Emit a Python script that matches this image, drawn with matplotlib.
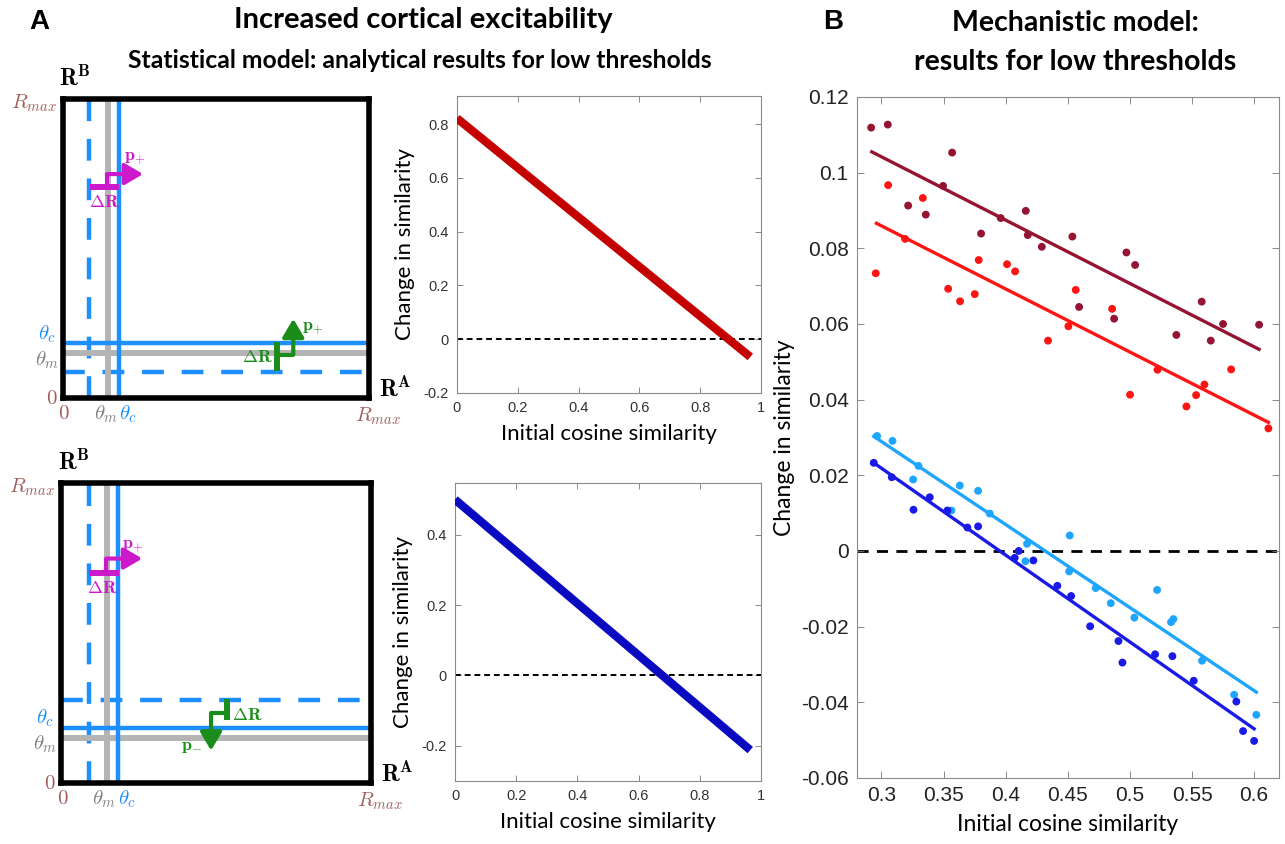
import numpy as np
import matplotlib
matplotlib.use("Agg")
import matplotlib.pyplot as plt

plt.rcParams["mathtext.fontset"] = "cm"
plt.rcParams["axes.unicode_minus"] = False

LABEL_FONT = ["Lato", "DejaVu Sans"]
TICK_FONT = ["Liberation Sans", "DejaVu Sans"]

# ─── schematic thresholds (fraction of R_max) ───
theta_m = 0.149
theta_c = 0.184
shift_top = (0.087, 0.087)      # lowered thresholds (x, y) – top schematic
shift_bottom = (0.089, 0.278)   # (x, y) – bottom schematic

# ─── analytical results ───
x_analytic = [0.0, 0.965]
dsim_top = [0.822, -0.066]
dsim_bottom = [0.500, -0.212]

# ─── mechanistic model ───
darkred_x = [0.2917, 0.3051, 0.3569, 0.3496, 0.3215, 0.3357, 0.3802, 0.3960, 0.4162, 0.4178, 0.4291,
             0.4537, 0.4591, 0.4873, 0.4972, 0.5042, 0.5374, 0.5578, 0.5651, 0.5750, 0.6040]
darkred_y = [0.1119, 0.1127, 0.1053, 0.0965, 0.0913, 0.0889, 0.0839, 0.0880, 0.0899, 0.0835, 0.0804,
             0.0831, 0.0645, 0.0614, 0.0789, 0.0756, 0.0571, 0.0659, 0.0556, 0.0600, 0.0598]
red_x = [0.2954, 0.3054, 0.3190, 0.3333, 0.3537, 0.3633, 0.3751, 0.3783, 0.4011, 0.4076, 0.4341,
         0.4505, 0.4564, 0.4857, 0.5001, 0.5222, 0.5455, 0.5533, 0.5600, 0.5815, 0.6115]
red_y = [0.0734, 0.0967, 0.0825, 0.0933, 0.0693, 0.0660, 0.0679, 0.0769, 0.0758, 0.0739, 0.0556,
         0.0594, 0.0690, 0.0640, 0.0413, 0.0479, 0.0382, 0.0412, 0.0440, 0.0480, 0.0324]
lightblue_x = [0.2965, 0.3089, 0.3255, 0.3298, 0.3563, 0.3631, 0.3778, 0.3872, 0.4172, 0.4159, 0.4516,
               0.4511, 0.4725, 0.4846, 0.5036, 0.5219, 0.5331, 0.5350, 0.5581, 0.5839, 0.6018]
lightblue_y = [0.0304, 0.0291, 0.0189, 0.0225, 0.0107, 0.0173, 0.0159, 0.0099, 0.0019, -0.0027, 0.0041,
               -0.0054, -0.0098, -0.0138, -0.0176, -0.0103, -0.0188, -0.0180, -0.0290, -0.0380, -0.0433]
darkblue_x = [0.2938, 0.3083, 0.3258, 0.3389, 0.3531, 0.3692, 0.3778, 0.4073, 0.4105, 0.4223, 0.4416,
              0.4527, 0.4680, 0.4908, 0.4940, 0.5203, 0.5342, 0.5514, 0.5857, 0.5911, 0.6000]
darkblue_y = [0.0233, 0.0195, 0.0109, 0.0142, 0.0107, 0.0062, 0.0065, -0.0018, 0.0000, -0.0025, -0.0092,
              -0.0119, -0.0199, -0.0238, -0.0295, -0.0273, -0.0278, -0.0343, -0.0398, -0.0476, -0.0502]

# fitted lines (end points)
fit_darkred = ([0.2922, 0.6040], [0.1055, 0.0533])
fit_red = ([0.2960, 0.6115], [0.0866, 0.0340])
fit_lightblue = ([0.2938, 0.6018], [0.0303, -0.0373])
fit_darkblue = ([0.2938, 0.6000], [0.0233, -0.0470])

C_DARKRED = "#941432"
C_RED = "#ff1414"
C_LIGHTBLUE = "#1ea6ff"
C_DARKBLUE = "#1a1ae6"
C_BLUE = "#1e8fff"
C_GRAY = "#b4b4b4"
C_BROWN = "#a2605c"
C_MAGENTA = "#cc19cc"
C_GREEN = "#1a8c1a"


def tick_str(v):
    return "%g" % round(v, 4)


def draw_step_arrow(ax, bar, step, arrow, color):
    # ΔR bar, connector and the arrow giving the direction of the shift
    ax.plot(*bar, color=color, lw=4.3, solid_capstyle="butt", zorder=6)
    ax.plot(*step, color=color, lw=3.0, solid_capstyle="butt", zorder=6)
    ax.annotate("", xy=arrow[1], xytext=arrow[0],
                arrowprops=dict(arrowstyle="-|>,head_length=1.1,head_width=0.65",
                                lw=3.0, color=color, shrinkA=0, shrinkB=0), zorder=6)


def draw_schematic(ax, shift):
    ax.set_xlim(0, 1)
    ax.set_ylim(0, 1)
    ax.set_xticks([])
    ax.set_yticks([])
    for s in ax.spines.values():
        s.set_linewidth(4)
        s.set_color("black")
        s.set_zorder(10)
    dash = (0, (4.9, 4.0))
    ax.axvline(shift[0], color=C_BLUE, lw=3.2, ls=dash)
    ax.axhline(shift[1], color=C_BLUE, lw=3.2, ls=dash)
    ax.axvline(theta_m, color=C_GRAY, lw=4.3)
    ax.axhline(theta_m, color=C_GRAY, lw=4.3)
    ax.axvline(theta_c, color=C_BLUE, lw=3.2)
    ax.axhline(theta_c, color=C_BLUE, lw=3.2)

    kw = dict(transform=ax.transAxes, ha="center", va="center", clip_on=False)
    ax.text(0.04, 1.07, r"$\mathbf{R}^{\mathbf{B}}$", fontsize=17, color="black", **kw)
    ax.text(1.085, 0.03, r"$\mathbf{R}^{\mathbf{A}}$", fontsize=17, color="black", **kw)
    ax.text(-0.095, 0.985, r"$R_{max}$", fontsize=15, color=C_BROWN, **kw)
    ax.text(1.03, -0.06, r"$R_{max}$", fontsize=15, color=C_BROWN, **kw)
    ax.text(-0.05, 0.215, r"$\theta_c$", fontsize=15, color=C_BLUE, **kw)
    ax.text(-0.05, 0.128, r"$\theta_m$", fontsize=15, color="#808080", **kw)
    ax.text(-0.035, 0.0, r"$0$", fontsize=15, color=C_BROWN, **kw)
    ax.text(0.005, -0.05, r"$0$", fontsize=15, color=C_BROWN, **kw)
    ax.text(0.14, -0.055, r"$\theta_m$", fontsize=15, color="#808080", **kw)
    ax.text(0.214, -0.055, r"$\theta_c$", fontsize=15, color=C_BLUE, **kw)


def analytic_panel(ax, y, color, ylim, yticks):
    ax.plot(x_analytic, y, color=color, lw=6, solid_capstyle="butt", zorder=3)
    ax.axhline(0, color="black", lw=1.4, ls=(0, (3, 2)), zorder=2)
    ax.set_xlim(0, 1)
    ax.set_ylim(*ylim)
    xt = [0, 0.2, 0.4, 0.6, 0.8, 1]
    ax.set_xticks(xt)
    ax.set_xticklabels([tick_str(v) for v in xt], fontfamily=TICK_FONT)
    ax.set_yticks(yticks)
    ax.set_yticklabels([tick_str(v) for v in yticks], fontfamily=TICK_FONT)
    ax.tick_params(direction="in", top=True, right=True, labelsize=10.5, length=4,
                   width=0.6, color="#777777", labelcolor="#333333", pad=6)
    for s in ax.spines.values():
        s.set_color("#8a8a8a")
        s.set_linewidth(0.8)
    ax.set_ylabel("Change in similarity", fontfamily=LABEL_FONT, fontsize=16, labelpad=6)
    ax.set_xlabel("Initial cosine similarity", fontfamily=LABEL_FONT, fontsize=16, labelpad=6)


fig = plt.figure(figsize=(12.85, 8.44), dpi=100)

# ─── A: schematics ───
ax_s1 = fig.add_axes([0.0488, 0.5284, 0.2386, 0.3543])
draw_schematic(ax_s1, shift_top)
draw_step_arrow(ax_s1, ([0.089, 0.185], [0.706, 0.706]), ([0.146, 0.146], [0.706, 0.751]),
                ((0.146, 0.749), (0.262, 0.749)), C_MAGENTA)
draw_step_arrow(ax_s1, ([0.70, 0.70], [0.089, 0.186]), ([0.70, 0.754], [0.145, 0.145]),
                ((0.752, 0.145), (0.752, 0.265)), C_GREEN)
mk = dict(fontsize=13, va="center")
ax_s1.text(0.235, 0.805, r"$\mathbf{p}_{+}$", color=C_MAGENTA, ha="center", **mk)
ax_s1.text(0.135, 0.655, r"$\mathbf{\Delta R}$", color=C_MAGENTA, ha="center", **mk)
ax_s1.text(0.815, 0.236, r"$\mathbf{p}_{+}$", color=C_GREEN, ha="center", **mk)
ax_s1.text(0.683, 0.138, r"$\mathbf{\Delta R}$", color=C_GREEN, ha="right", **mk)

ax_s2 = fig.add_axes([0.0475, 0.0723, 0.2412, 0.3555])
draw_schematic(ax_s2, shift_bottom)
draw_step_arrow(ax_s2, ([0.089, 0.186], [0.700, 0.700]), ([0.146, 0.146], [0.700, 0.750]),
                ((0.146, 0.748), (0.262, 0.748)), C_MAGENTA)
draw_step_arrow(ax_s2, ([0.535, 0.535], [0.211, 0.280]), ([0.537, 0.482], [0.233, 0.233]),
                ((0.484, 0.233), (0.484, 0.108)), C_GREEN)
ax_s2.text(0.232, 0.792, r"$\mathbf{p}_{+}$", color=C_MAGENTA, ha="center", **mk)
ax_s2.text(0.132, 0.650, r"$\mathbf{\Delta R}$", color=C_MAGENTA, ha="center", **mk)
ax_s2.text(0.552, 0.228, r"$\mathbf{\Delta R}$", color=C_GREEN, ha="left", **mk)
ax_s2.text(0.422, 0.122, r"$\mathbf{p}_{-}$", color=C_GREEN, ha="center", **mk)

# ─── A: analytical curves ───
ax_a1 = fig.add_axes([0.3556, 0.5344, 0.2366, 0.3519])
analytic_panel(ax_a1, dsim_top, "#c40000", (-0.2, 0.905), [-0.2, 0, 0.2, 0.4, 0.6, 0.8])
ax_a2 = fig.add_axes([0.3541, 0.0746, 0.2381, 0.3531])
analytic_panel(ax_a2, dsim_bottom, "#0a0ac0", (-0.3, 0.547), [-0.2, 0, 0.2, 0.4])

# ─── B: mechanistic model ───
ax_b = fig.add_axes([0.6669, 0.0782, 0.3284, 0.8069])
ax_b.axhline(0, color="black", lw=2.0, ls=(0, (4, 3)), zorder=1)
for xs, ys, fit, c in [(darkred_x, darkred_y, fit_darkred, C_DARKRED),
                       (red_x, red_y, fit_red, C_RED),
                       (lightblue_x, lightblue_y, fit_lightblue, C_LIGHTBLUE),
                       (darkblue_x, darkblue_y, fit_darkblue, C_DARKBLUE)]:
    ax_b.plot(fit[0], fit[1], color=c, lw=2.4, zorder=2)
    ax_b.scatter(xs, ys, s=32, color=c, edgecolors="none", zorder=3)
ax_b.set_xlim(0.2803, 0.62)
ax_b.set_ylim(-0.06, 0.12)
bx = [0.3, 0.35, 0.4, 0.45, 0.5, 0.55, 0.6]
by = [-0.06, -0.04, -0.02, 0, 0.02, 0.04, 0.06, 0.08, 0.1, 0.12]
ax_b.set_xticks(bx)
ax_b.set_xticklabels([tick_str(v) for v in bx], fontfamily=TICK_FONT)
ax_b.set_yticks(by)
ax_b.set_yticklabels([tick_str(v) for v in by], fontfamily=TICK_FONT)
ax_b.tick_params(direction="in", top=True, right=True, labelsize=15, length=5,
                 width=0.6, color="#777777", labelcolor="#222222", pad=6)
for s in ax_b.spines.values():
    s.set_color("#8a8a8a")
    s.set_linewidth(0.8)
ax_b.set_ylabel("Change in similarity", fontfamily=LABEL_FONT, fontsize=16.5, labelpad=4)
ax_b.set_xlabel("Initial cosine similarity", fontfamily=LABEL_FONT, fontsize=16.5, labelpad=6)

# ─── titles ───
def ftext(x, y, s, size, **kw):
    fig.text(x / 1285, 1 - y / 844, s, fontsize=size, ha="center", va="center",
             fontweight="bold", **kw)

ftext(39, 22, "A", 20, fontfamily=TICK_FONT)
ftext(833, 22, "B", 20, fontfamily=TICK_FONT)
ftext(423, 20, "Increased cortical excitability", 21, fontfamily=LABEL_FONT)
ftext(420, 60, "Statistical model: analytical results for low thresholds", 17.8, fontfamily=LABEL_FONT)
ftext(1075, 23, "Mechanistic model:", 20.5, fontfamily=LABEL_FONT)
ftext(1075, 62, "results for low thresholds", 20.5, fontfamily=LABEL_FONT)

fig.savefig("out.png", dpi=100)
